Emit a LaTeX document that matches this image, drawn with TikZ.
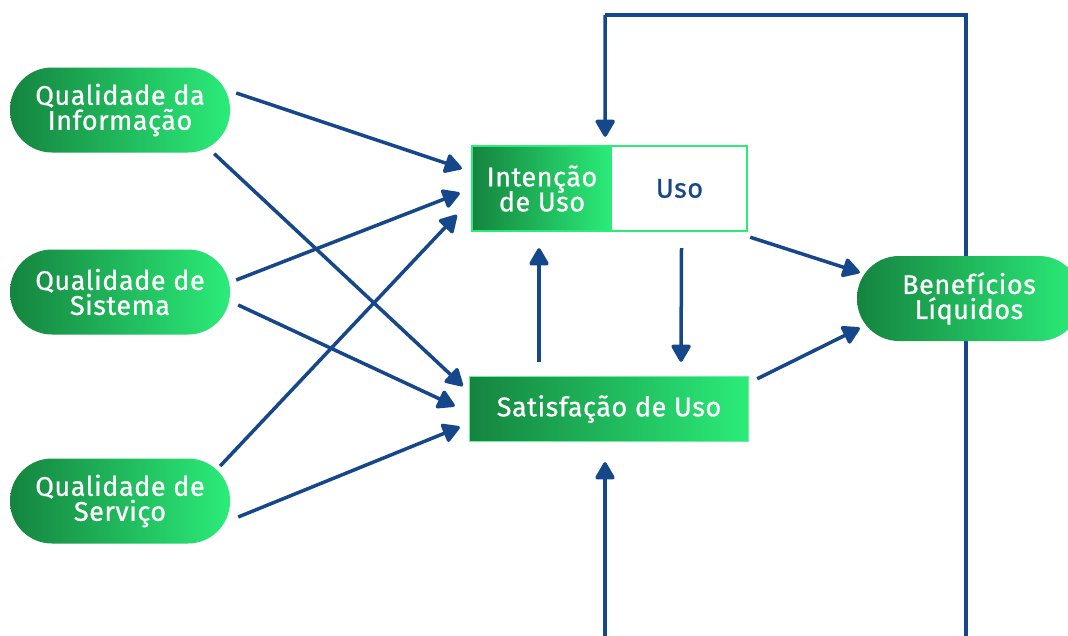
\documentclass[tikz,border=0pt]{standalone}
\usepackage{fontspec}
\setmainfont{Fira Sans}[BoldFont=Fira Sans, BoldFeatures={FakeBold=0.8}, LetterSpace=2]
\usetikzlibrary{arrows.meta,calc}
\definecolor{navy}{HTML}{17478B}
\definecolor{gdark}{HTML}{15843F}
\definecolor{glight}{HTML}{2BEC79}
\newcommand\lblfont{\fontsize{27}{25}\selectfont\bfseries\lineskiplimit=-20pt\relax}
\tikzset{
  lbl/.style={font=\lblfont, align=center, inner sep=0pt},
  pill/.style={lbl, rectangle, rounded corners=42pt, minimum width=220pt, minimum height=85pt,
    left color=gdark, right color=glight, draw=none, text=white},
  gbox/.style={lbl, rectangle, left color=gdark, right color=glight, draw=none, text=white},
  wbox/.style={lbl, rectangle, fill=white, draw=none, text=navy},
  arr/.style={draw=navy, line width=3.5pt, -{Triangle[length=19pt,width=21pt,round]}},
  fbline/.style={draw=navy, line width=3.5pt}
}
\begin{document}
\begin{tikzpicture}[x=1pt,y=-1pt]
\useasboundingbox (0,0) rectangle (1068,635);
\fill[white] (0,0) rectangle (1068,635);
% left nodes
\node[pill] (qi) at (120,110) {Qualidade da\\Informação};
\node[pill] (qs) at (120,292) {Qualidade de\\Sistema};
\node[pill] (qsv) at (120,501) {Qualidade de\\Serviço};
% middle
\node[gbox, minimum width=140pt, minimum height=85pt] (int) at (542,188.5) {Intenção\\de Uso};
\node[wbox, minimum width=135pt, minimum height=85pt] (uso) at (679.5,188.5) {Uso};
\draw[glight, line width=1.5pt] (int.north west) rectangle (uso.south east);
\node[gbox, minimum width=278pt, minimum height=64pt] (sat) at (609,409) {Satisfação de Uso};
\draw[glight!70, line width=1pt] (sat.north west) rectangle (sat.south east);
% feedback loops
\coordinate (fb1) at (966,640);
\coordinate (topc) at (605,15);
\draw[fbline] (fb1) |- (topc);
\draw[arr] (topc) -- ([shift={(-7,-9)}]int.north east);
\coordinate (fb2) at (605,640);
\draw[arr] (fb2) -- ([shift={(-4,21)}]sat.south);
% outcome
\node[pill, minimum width=224pt] (ben) at (969,298.5) {Benefícios\\Líquidos};
% arrows
\draw[arr] ([shift={(6,-17)}]qi.east) -- ([shift={(-10,-20)}]int.west);
\draw[arr] ([shift={(-16,1)}]qi.south east) -- ([shift={(-7,-23)}]sat.west);
\draw[arr] ([shift={(6,-12)}]qs.east) -- ([shift={(-12,4.5)}]int.west);
\draw[arr] ([shift={(8,13)}]qs.east) -- ([shift={(-15,-3)}]sat.west);
\draw[arr] ([shift={(-10,-35)}]qsv.east) -- ([shift={(-15,26.5)}]int.west);
\draw[arr] ([shift={(8,16)}]qsv.east) -- ([shift={(-10,18)}]sat.west);
\draw[arr] ([shift={(-70,-15)}]sat.north) -- ([shift={(-3,17)}]int.south);
\draw[arr] ([shift={(2,17)}]uso.south) -- ([shift={(72,-15)}]sat.north);
\draw[arr] ([shift={(3,6)}]uso.south east) -- ([shift={(3,-26)}]ben.west);
\draw[arr] ([shift={(9,2)}]sat.north east) -- ([shift={(3,29.5)}]ben.west);
\end{tikzpicture}
\end{document}
